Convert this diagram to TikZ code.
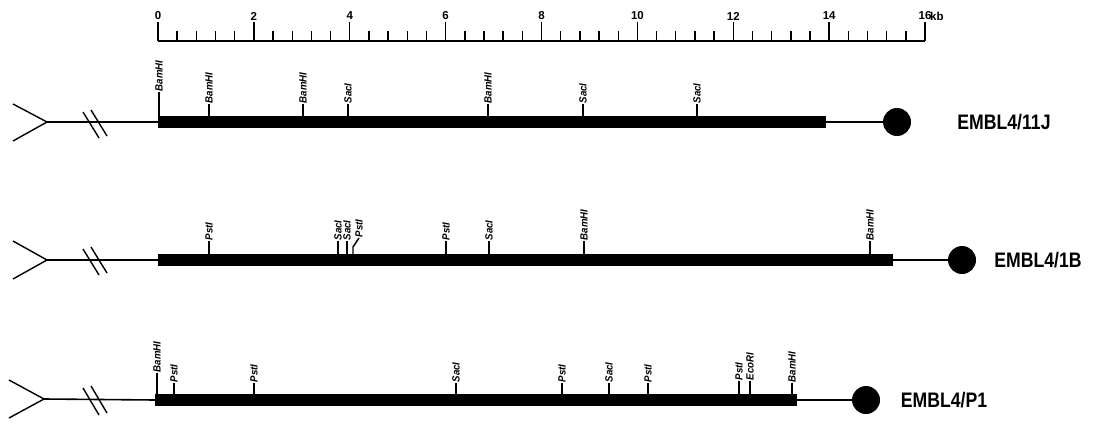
\documentclass[tikz,border=0pt]{standalone}
\usepackage{fontspec}
\setmainfont{Liberation Sans}
\begin{document}
\begin{tikzpicture}[x=1pt,y=-1pt,
  thinline/.style={line width=1.6pt},
  tickline/.style={line width=1.4pt},
  barline/.style={line width=12pt},
  endball/.style={circle,fill=black,minimum size=28pt,inner sep=0pt},
  clonename/.style={font=\fontsize{21}{21}\selectfont\bfseries,inner sep=0pt},
  sitelabel/.style={rotate=90,anchor=west,inner sep=0.5pt,font=\fontsize{10.5}{10.5}\selectfont\bfseries\itshape},
  scalenum/.style={font=\fontsize{11.5}{11.5}\selectfont\bfseries,inner sep=0pt}]
\useasboundingbox (0,0) rectangle (1093,423);
\newcommand\rsite[5]{% name, x, tick top, bar top, label
  \coordinate (#1a) at (#2,#4);
  \coordinate (#1b) at (#2,#3);
  \draw[tickline] (#1a) -- (#1b);
  \node[sitelabel] (#1t) at (#1b) {\scalebox{0.92}[1]{#5}};}
% scale bar
\coordinate (ax0) at (158,41);
\coordinate (ax1) at (925,41);
\draw[thinline] (ax0) -- (ax1);
\foreach \i in {0,...,40}{
  \pgfmathsetmacro\xx{158+47.94*0.4*\i}
  \draw[tickline] (\xx,41) -- (\xx,31);}
\foreach \k in {0,2,...,16}{
  \pgfmathsetmacro\xx{158+47.94*\k}
  \draw[tickline] (\xx,41) -- (\xx,22);
  \node[scalenum] (n\k) at (\xx,16) {\k};}
\node[scalenum,anchor=west] (kb) at (930,16) {kb};
% ---------- track 1
\coordinate (v1) at (47,122);
\coordinate (s1) at (158,122);
\coordinate (e1) at (826,122);
\coordinate (p1a) at (13,104); \coordinate (p1b) at (13,141);
\draw[tickline] (p1a) -- (v1) -- (p1b);
\draw[thinline] (v1) -- (s1);
\coordinate (q1a) at (83,112); \coordinate (q1b) at (99,138);
\coordinate (q1c) at (91,110); \coordinate (q1d) at (107,136);
\draw[tickline] (q1a) -- (q1b); \draw[tickline] (q1c) -- (q1d);
\draw[barline] (s1) -- (e1);
\node[endball] (c1) at (897,122) {};
\draw[thinline] (e1) -- (c1);
\node[clonename] (l1) at (1004,122) {\scalebox{0.84}[1]{EMBL4/11J}};
\rsite{t1s1}{159}{92}{116}{BamHI}
\rsite{t1s2}{209}{104}{116}{BamHI}
\rsite{t1s3}{303}{104}{116}{BamHI}
\rsite{t1s4}{348}{104}{116}{SacI}
\rsite{t1s5}{488}{104}{116}{BamHI}
\rsite{t1s6}{583}{104}{116}{SacI}
\rsite{t1s7}{697}{104}{116}{SacI}
% ---------- track 2
\coordinate (v2) at (47,260);
\coordinate (s2) at (158,260);
\coordinate (e2) at (893,260);
\coordinate (p2a) at (13,241); \coordinate (p2b) at (13,279);
\draw[tickline] (p2a) -- (v2) -- (p2b);
\draw[thinline] (v2) -- (s2);
\coordinate (q2a) at (83,249); \coordinate (q2b) at (99,275);
\coordinate (q2c) at (91,247); \coordinate (q2d) at (107,273);
\draw[tickline] (q2a) -- (q2b); \draw[tickline] (q2c) -- (q2d);
\draw[barline] (s2) -- (e2);
\node[endball] (c2) at (962,260) {};
\draw[thinline] (e2) -- (c2);
\node[clonename] (l2) at (1038,260) {\scalebox{0.84}[1]{EMBL4/1B}};
\rsite{t2s1}{209}{241}{254}{PstI}
\rsite{t2s2}{338}{241}{254}{SacI}
\rsite{t2s3}{347}{241}{254}{SacI}
\coordinate (t2s4a) at (353,254);
\coordinate (t2s4m) at (353,247);
\coordinate (t2s4b) at (359,238);
\draw[tickline] (t2s4a) -- (t2s4m) -- (t2s4b);
\node[sitelabel] (t2s4t) at (t2s4b) {\scalebox{0.92}[1]{PstI}};
\rsite{t2s5}{446}{241}{254}{PstI}
\rsite{t2s6}{489}{241}{254}{SacI}
\rsite{t2s7}{584}{241}{254}{BamHI}
\rsite{t2s8}{870}{241}{254}{BamHI}
% ---------- track 3
\coordinate (v3) at (44,399);
\coordinate (s3) at (155,400);
\coordinate (e3) at (797,400);
\coordinate (p3a) at (9,380); \coordinate (p3b) at (9,418);
\draw[tickline] (p3a) -- (v3) -- (p3b);
\draw[thinline] (v3) -- (s3);
\coordinate (q3a) at (83,388); \coordinate (q3b) at (99,415);
\coordinate (q3c) at (91,386); \coordinate (q3d) at (107,413);
\draw[tickline] (q3a) -- (q3b); \draw[tickline] (q3c) -- (q3d);
\draw[barline] (s3) -- (e3);
\node[endball] (c3) at (866,400) {};
\draw[thinline] (e3) -- (c3);
\node[clonename] (l3) at (944,400) {\scalebox{0.84}[1]{EMBL4/P1}};
\rsite{t3s1}{157}{373}{394}{BamHI}
\rsite{t3s2}{174}{383}{394}{PstI}
\rsite{t3s3}{254}{383}{394}{PstI}
\rsite{t3s4}{456}{383}{394}{SacI}
\rsite{t3s5}{562}{383}{394}{PstI}
\rsite{t3s6}{609}{383}{394}{SacI}
\rsite{t3s7}{648}{383}{394}{PstI}
\rsite{t3s8}{739}{381}{394}{PstI}
\rsite{t3s9}{750}{381}{394}{EcoRI}
\rsite{t3s10}{792}{383}{394}{BamHI}
\end{tikzpicture}
\end{document}
